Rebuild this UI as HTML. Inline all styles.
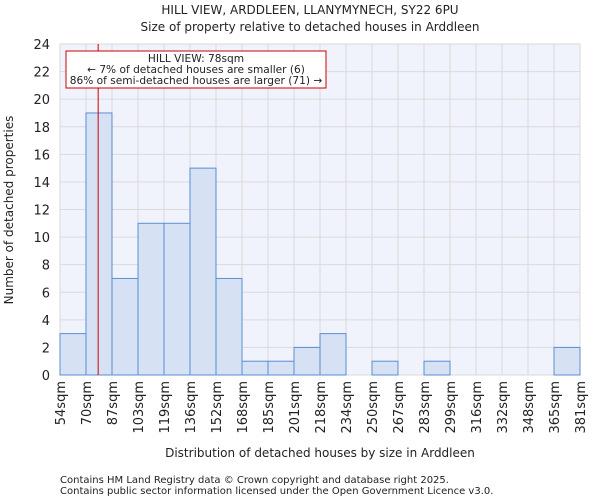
<!DOCTYPE html>
<html><head><meta charset="utf-8"><style>
body{margin:0;background:#fff;font-family:"DejaVu Sans","Liberation Sans",sans-serif;}
svg text{font-family:"DejaVu Sans","Liberation Sans",sans-serif;fill:#222;}
</style></head><body>
<svg id="c" width="600" height="500">
<text x="310" y="14" font-size="12" text-anchor="middle">HILL VIEW, ARDDLEEN, LLANYMYNECH, SY22 6PU</text>
<text x="310" y="31" font-size="12" text-anchor="middle">Size of property relative to detached houses in Arddleen</text>
<rect x="60" y="44" width="520" height="331" fill="#f0f3fb"/>
<g id="grid"></g><g id="bars"></g><g id="axes"></g>
<text x="320" y="457" font-size="12" text-anchor="middle">Distribution of detached houses by size in Arddleen</text>
<text transform="translate(13,210) rotate(-90)" font-size="12" text-anchor="middle">Number of detached properties</text>
<text x="60" y="483" font-size="10" fill="#444">Contains HM Land Registry data © Crown copyright and database right 2025.</text>
<text x="60" y="494" font-size="10" fill="#444">Contains public sector information licensed under the Open Government Licence v3.0.</text>
</svg>
<script>
const binLabels=["54sqm","70sqm","87sqm","103sqm","119sqm","136sqm","152sqm","168sqm","185sqm","201sqm","218sqm","234sqm","250sqm","267sqm","283sqm","299sqm","316sqm","332sqm","348sqm","365sqm","381sqm"];
const binEdges=[54,70.35,86.7,103.05,119.4,135.75,152.1,168.45,184.8,201.15,217.5,233.85,250.2,266.55,282.9,299.25,315.6,331.95,348.3,364.65,381];
const counts=[3,19,7,11,11,15,7,1,1,2,3,0,1,0,1,0,0,0,0,2];
const yTicks=[0,2,4,6,8,10,12,14,16,18,20,22,24];
const markerSqm=78;
const NS="http://www.w3.org/2000/svg";
const x0=60,x1=580,yTop=44,yBot=375,yMax=24;
const xs=v=>x0+(v-binEdges[0])/(binEdges[binEdges.length-1]-binEdges[0])*(x1-x0);
const ys=v=>yBot-v/yMax*(yBot-yTop);
function mk(t,a,p){const e=document.createElementNS(NS,t);for(const k in a)e.setAttribute(k,a[k]);p.appendChild(e);return e;}
const grid=document.getElementById('grid'),bars=document.getElementById('bars'),axes=document.getElementById('axes');
yTicks.forEach(t=>{
 const l=mk('line',{x1:x0,x2:x1,y1:ys(t),y2:ys(t),stroke:'#dadada','stroke-width':1},grid);
 
 
 const tx=mk('text',{x:50,y:ys(t)+5,'font-size':13,'text-anchor':'end'},axes);tx.textContent=t;
 
 
});
binEdges.forEach((e,i)=>{
 const l=mk('line',{x1:xs(e),x2:xs(e),y1:yTop,y2:yBot,stroke:'#dadada','stroke-width':1},grid);
 
 
 const tx=mk('text',{transform:`translate(${xs(e)+5},381) rotate(-90)`,'font-size':13,'text-anchor':'end'},axes);tx.textContent=binLabels[i];
 
 
});
counts.forEach((c,i)=>{
 if(c<=0)return;
 const r=mk('rect',{x:xs(binEdges[i]),y:ys(c),width:xs(binEdges[i+1])-xs(binEdges[i]),height:yBot-ys(c),fill:'#d6e1f3',stroke:'#5b8ed6','stroke-width':1},bars);
 
 
});
const ml=mk('line',{x1:xs(markerSqm),x2:xs(markerSqm),y1:yTop,y2:yBot,stroke:'#cc0000','stroke-width':1},axes);


const box=mk('rect',{x:66,y:51,width:260,height:37,fill:'#fff',stroke:'#cc0000','stroke-width':1},axes);


["HILL VIEW: 78sqm","← 7% of detached houses are smaller (6)","86% of semi-detached houses are larger (71) →"].forEach((s,i)=>{
 const t=mk('text',{x:196,y:62+i*11,'font-size':10.6,'text-anchor':'middle'},axes);t.textContent=s;
 
 
});
</script>
</body></html>
